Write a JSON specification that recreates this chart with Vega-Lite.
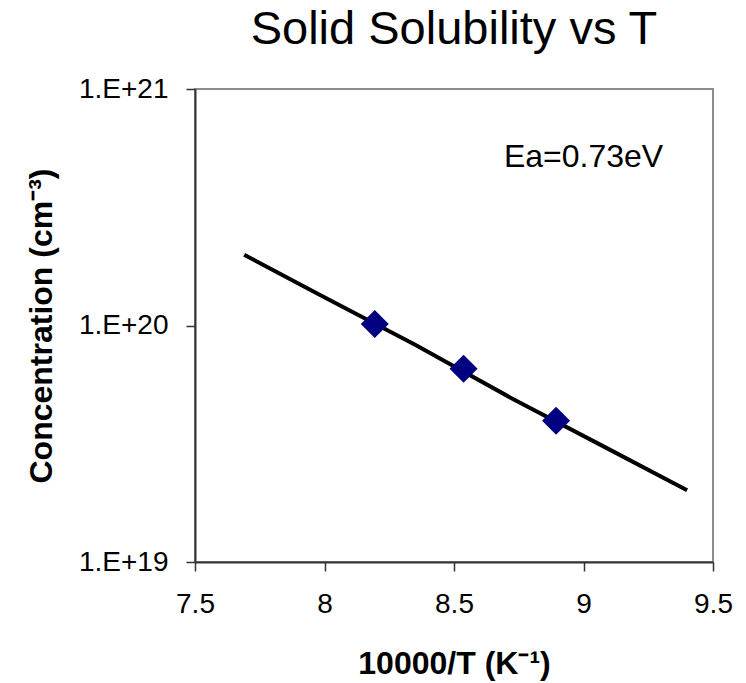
{
  "$schema": "https://vega.github.io/schema/vega-lite/v6.json",
  "autosize": "none",
  "width": 518,
  "height": 473,
  "padding": {"left": 195, "top": 89, "right": 33, "bottom": 121},
  "background": "white",
  "config": {
    "font": "Liberation Sans",
    "view": {"stroke": "#8c8c8c", "strokeWidth": 2},
    "axis": {
      "grid": false,
      "domainColor": "#333333",
      "domainWidth": 2,
      "tickColor": "#333333",
      "tickWidth": 1.5,
      "tickSize": 9,
      "labelFont": "Liberation Sans",
      "labelFontSize": 28,
      "labelColor": "black",
      "labelFlush": false,
      "labelOverlap": false,
      "titleFont": "Liberation Sans",
      "titleFontSize": 32,
      "titleFontWeight": "bold",
      "titleColor": "black"
    }
  },
  "title": {
    "text": "Solid Solubility vs T",
    "font": "Liberation Sans",
    "fontSize": 47,
    "fontWeight": "normal",
    "color": "black",
    "anchor": "middle",
    "offset": 21
  },
  "datasets": {
    "points": [
      {"x": 8.194, "y": 1.015e20},
      {"x": 8.537, "y": 6.57e19},
      {"x": 8.894, "y": 3.96e19}
    ],
    "fit": [
      {"x": 7.69, "y": 1.99e20},
      {"x": 7.97, "y": 1.37e20},
      {"x": 8.35, "y": 8.3e19},
      {"x": 8.72, "y": 4.94e19},
      {"x": 9.09, "y": 3.03e19},
      {"x": 9.4, "y": 2.01e19}
    ],
    "note": [
      {"x": 9.0, "y": 4.68e20, "label": "Ea=0.73eV"}
    ]
  },
  "layer": [
    {
      "data": {"name": "fit"},
      "mark": {"type": "line", "color": "black", "strokeWidth": 4},
      "encoding": {
        "x": {
          "field": "x", "type": "quantitative",
          "scale": {"domain": [7.5, 9.5], "nice": false, "zero": false},
          "axis": {"values": [7.5, 8, 8.5, 9, 9.5], "title": "10000/T (K⁻¹)", "labelPadding": 19, "titlePadding": 30, "format": "~g"}
        },
        "y": {
          "field": "y", "type": "quantitative",
          "scale": {"type": "log", "domain": [1e19, 1e21], "nice": false},
          "axis": {"values": [1e19, 1e20, 1e21], "title": "Concentration (cm⁻³)", "labelPadding": 18, "titlePadding": 20, "labelExpr": "'1.E+' + format(log(datum.value)/log(10), '.0f')"}
        }
      }
    },
    {
      "data": {"name": "points"},
      "mark": {"type": "point", "shape": "M-1,0L0,-1L1,0L0,1Z", "filled": true, "color": "#000080", "size": 784, "opacity": 1},
      "encoding": {
        "x": {"field": "x", "type": "quantitative"},
        "y": {"field": "y", "type": "quantitative"}
      }
    },
    {
      "data": {"name": "note"},
      "mark": {"type": "text", "fontSize": 32, "font": "Liberation Sans", "color": "black", "align": "center", "baseline": "alphabetic"},
      "encoding": {
        "x": {"field": "x", "type": "quantitative"},
        "y": {"field": "y", "type": "quantitative"},
        "text": {"field": "label"}
      }
    }
  ]
}
